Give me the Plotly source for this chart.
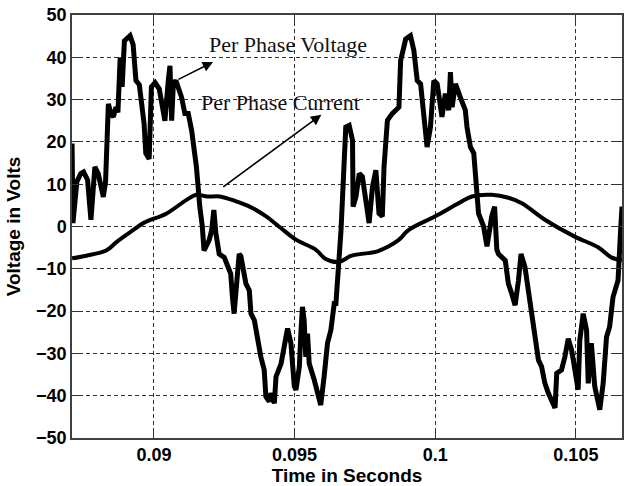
import plotly.graph_objects as go

# Per phase voltage samples (time in s, volts)
volt_t = [0.08709, 0.08712, 0.08726, 0.08740, 0.08750, 0.08764, 0.08776, 0.08790, 0.08802, 0.08820,
          0.08828, 0.08838, 0.08848, 0.08856, 0.08865, 0.08872, 0.08880, 0.08887, 0.08895, 0.08915,
          0.08926, 0.08936, 0.08948, 0.08965, 0.08971, 0.08983, 0.08991, 0.09004, 0.09019, 0.09031,
          0.09039, 0.09051, 0.09057, 0.09063, 0.09069, 0.09078, 0.09098, 0.09110, 0.09122, 0.09134,
          0.09151, 0.09163, 0.09172, 0.09178, 0.09196, 0.09205, 0.09213, 0.09220, 0.09232, 0.09250,
          0.09273, 0.09279, 0.09285, 0.09291, 0.09303, 0.09309, 0.09315, 0.09327, 0.09339, 0.09345,
          0.09357, 0.09369, 0.09380, 0.09392, 0.09398, 0.09410, 0.09416, 0.09428, 0.09434, 0.09452,
          0.09475, 0.09487, 0.09499, 0.09505, 0.09517, 0.09523, 0.09528, 0.09534, 0.09540, 0.09546,
          0.09552, 0.09570, 0.09587, 0.09593, 0.09605, 0.09617, 0.09629, 0.09635, 0.09641, 0.09647,
          0.09653, 0.09659, 0.09665, 0.09682, 0.09694, 0.09706, 0.09708, 0.09718, 0.09730, 0.09741,
          0.09753, 0.09765, 0.09777, 0.09789, 0.09800, 0.09812, 0.09818, 0.09830, 0.09847, 0.09859,
          0.09871, 0.09877, 0.09889, 0.09895, 0.09912, 0.09924, 0.09936, 0.09948, 0.09971, 0.09983,
          0.09995, 0.10007, 0.10024, 0.10036, 0.10048, 0.10054, 0.10060, 0.10072, 0.10089, 0.10107,
          0.10113, 0.10125, 0.10137, 0.10148, 0.10154, 0.10172, 0.10184, 0.10201, 0.10211, 0.10219,
          0.10225, 0.10249, 0.10260, 0.10272, 0.10284, 0.10296, 0.10305, 0.10319, 0.10331, 0.10343,
          0.10355, 0.10367, 0.10378, 0.10390, 0.10402, 0.10414, 0.10426, 0.10432, 0.10449, 0.10461,
          0.10473, 0.10485, 0.10496, 0.10508, 0.10514, 0.10526, 0.10538, 0.10544, 0.10555, 0.10567,
          0.10585, 0.10597, 0.10609, 0.10620, 0.10632, 0.10650, 0.10659, 0.10664]
volt_v = [19.6, 0.8, 10.6, 12.5, 12.9, 11.0, 1.6, 14.1, 12.5, 7.0,
          10.6, 29.0, 26.5, 25.9, 28.2, 27.0, 40.0, 33.0, 43.9, 45.1,
          43.0, 34.5, 33.5, 24.3, 17.3, 16.0, 33.0, 34.0, 32.5, 26.7,
          25.0, 34.5, 38.0, 25.0, 33.7, 34.5, 30.6, 26.7, 26.7, 22.7,
          14.1, 4.7, 0.0, -5.7, -3.3, -1.0, 3.9, -1.5, -6.5, -7.3,
          -11.2, -16.7, -20.6, -15.9, -6.5, -7.0, -9.0, -13.5, -15.1, -20.6,
          -22.2, -27.6, -30.8, -33.9, -40.2, -41.4, -39.4, -41.8, -35.5, -32.4,
          -24.1, -27.6, -37.8, -38.6, -33.1, -24.5, -19.0, -22.2, -30.8, -25.3,
          -32.4, -36.3, -41.0, -42.2, -35.5, -27.6, -24.5, -19.8, -18.2, -18.2,
          -12.7, -7.3, -1.0, 23.5, 23.9, 20.4, 4.7, 7.0, 12.5, 11.8,
          6.3, 0.8, 9.4, 13.3, 3.1, 2.4, 14.1, 25.1, 26.7, 27.5,
          28.2, 39.2, 42.4, 44.3, 45.1, 41.6, 34.5, 33.7, 18.8, 23.5,
          34.5, 33.7, 25.9, 31.4, 27.5, 36.5, 28.2, 33.7, 30.6, 27.5,
          23.5, 18.8, 17.3, 9.4, 3.1, 0.0, -4.7, 2.4, 4.7, -5.5,
          -6.5, -8.0, -13.5, -15.9, -18.6, -12.7, -6.5, -9.6, -15.1, -21.4,
          -26.1, -31.6, -33.1, -37.1, -39.4, -41.4, -42.9, -34.7, -33.9, -30.8,
          -26.5, -29.2, -33.9, -38.6, -26.9, -20.6, -24.5, -37.1, -27.6, -37.8,
          -43.3, -37.1, -26.1, -23.7, -16.7, -12.7, -1.0, 4.7]

# Per phase current samples (time in s, amperes on the same axis)
curr_t = [0.08709, 0.08760, 0.08832, 0.08870, 0.08927, 0.08962, 0.09045, 0.09116, 0.09150, 0.09190,
          0.09234, 0.09290, 0.09340, 0.09399, 0.09450, 0.09505, 0.09576, 0.09609, 0.09656, 0.09703,
          0.09797, 0.09868, 0.09906, 0.10000, 0.10083, 0.10130, 0.10201, 0.10260, 0.10308, 0.10390,
          0.10496, 0.10579, 0.10626, 0.10664]
curr_v = [-7.5, -6.9, -5.6, -3.5, -0.8, 0.8, 3.1, 6.3, 7.5, 7.1,
          7.1, 6.0, 4.7, 2.4, -0.3, -3.1, -5.5, -7.6, -8.4, -6.9,
          -5.8, -3.3, -0.8, 2.4, 5.5, 7.1, 7.5, 6.8, 5.5, 1.6,
          -2.4, -4.9, -7.3, -8.0]

x_ticks = [0.09, 0.095, 0.1, 0.105]
x_tick_text = ["0.09", "0.095", "0.1", "0.105"]
y_ticks = [-50, -40, -30, -20, -10, 0, 10, 20, 30, 40, 50]

fig = go.Figure()
fig.add_trace(go.Scatter(x=volt_t, y=volt_v, mode="lines",
                         line=dict(color="black", width=5), showlegend=False))
fig.add_trace(go.Scatter(x=curr_t, y=curr_v, mode="lines",
                         line=dict(color="black", width=4, shape="spline"), showlegend=False))

label_font = dict(family="Liberation Serif, Times New Roman, serif", size=22, color="#111111")
fig.add_annotation(x=0.09475, y=43.1, text="Per Phase Voltage", showarrow=False, font=label_font)
fig.add_annotation(x=0.0945, y=29.4, text="Per Phase Current", showarrow=False, font=label_font)

arrow_style = dict(showarrow=True, arrowhead=2, arrowsize=1.3, arrowwidth=1.6,
                   arrowcolor="black", axref="x", ayref="y", text="")
fig.add_annotation(x=0.0921, y=38.9, ax=0.09082, ay=34.6, **arrow_style)
fig.add_annotation(x=0.09595, y=26.4, ax=0.09241, ay=9.1, **arrow_style)

axis_font = dict(family="Liberation Sans, Arial, sans-serif", size=18, color="black", weight="bold")
title_font = dict(family="Liberation Sans, Arial, sans-serif", size=19, color="black", weight="bold")

fig.update_xaxes(range=[0.087087, 0.10664], tickvals=x_ticks, ticktext=x_tick_text,
                 showgrid=True, gridcolor="#333333", gridwidth=1, griddash="4px,3px",
                 showline=True, linecolor="#404040", linewidth=1.5, mirror="ticks",
                 ticks="inside", ticklen=7, tickcolor="#333333",
                 tickfont=axis_font, zeroline=False,
                 title=dict(text="Time in Seconds", font=title_font, standoff=4))
fig.update_yaxes(range=[-50, 50], tickvals=y_ticks,
                 showgrid=True, gridcolor="#333333", gridwidth=1, griddash="4px,3px",
                 showline=True, linecolor="#404040", linewidth=1.5, mirror="ticks",
                 ticks="inside", ticklen=7, tickcolor="#333333",
                 tickfont=axis_font, zeroline=False,
                 title=dict(text="Voltage in Volts", font=title_font, standoff=10))

fig.update_layout(width=624, height=486, margin=dict(l=72, r=0, t=15, b=48),
                  plot_bgcolor="white", paper_bgcolor="white")

fig.write_html("out.html")
